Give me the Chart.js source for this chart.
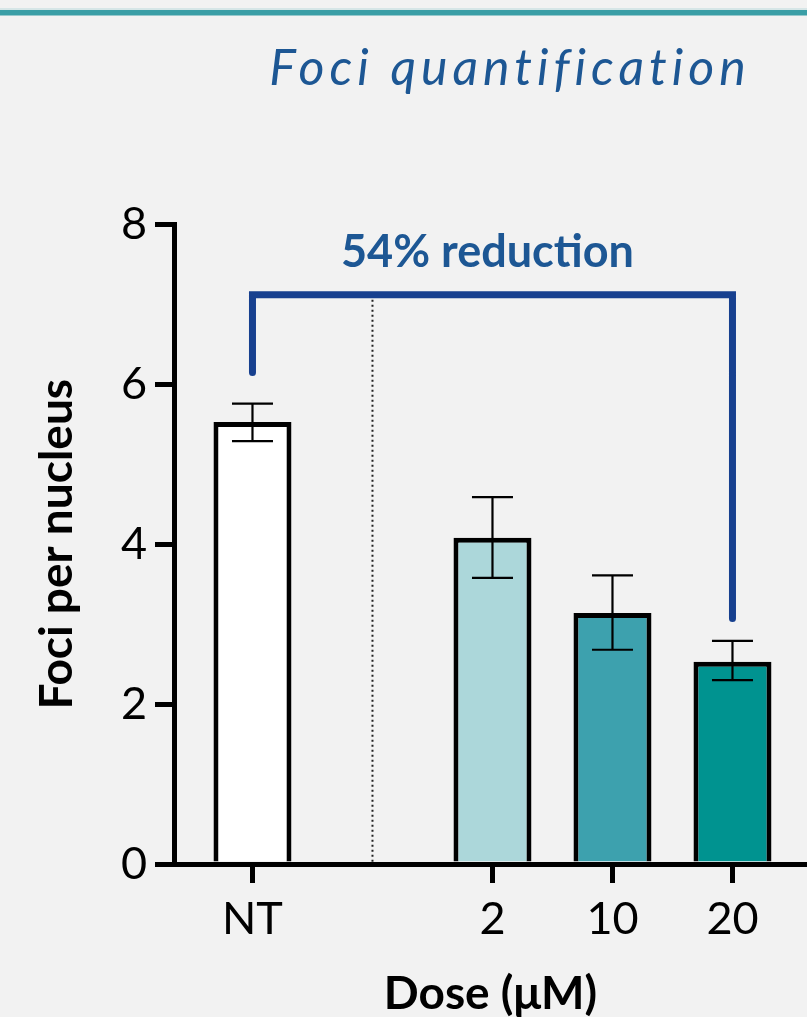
<!DOCTYPE html>
<html>
<head>
<meta charset="utf-8">
<script src="https://cdn.jsdelivr.net/npm/chart.js@4.4.1/dist/chart.umd.min.js"></script>
<style>
    html, body { margin: 0; padding: 0; background: #f2f2f2; }
    #wrap { width: 807px; height: 1017px; position: relative; }
</style>
</head>
<body>
<div id="wrap"><canvas id="foci"></canvas></div>
<script>
// groups along the dose axis, slot 1 is left empty as a spacer
const categories = ['NT', '2', '10', '20']
const slots = [0, 2, 3, 4]
const fociMean = [5.53, 4.08, 3.14, 2.53]
const errLow = [5.29, 3.58, 2.68, 2.30]
const errHigh = [5.76, 4.59, 3.61, 2.79]
const barColors = ['#ffffff', '#acd7da', '#3da1ae', '#009390']

// comparison bracket NT -> 20 µM
const bracketSlots = [0, 4]
const bracketLevel = 7.12
const bracketEnds = [6.15, 3.07]
const bracketLabel = '54% reduction'
const spacerSlot = 1

const blue = '#1d5794'
const bracketBlue = '#17408f'

const overlay = {
    id: 'overlay',
    beforeDraw(chart) {
        const { ctx, width } = chart
        ctx.save()
        ctx.fillStyle = '#f2f2f2'
        ctx.fillRect(0, 0, width, chart.height)
        // header rule
        ctx.fillStyle = '#d6e6e7'
        ctx.fillRect(0, 8, width, 2)
        ctx.fillStyle = '#3a9ea6'
        ctx.fillRect(0, 10, width, 5.5)
        // heading
        ctx.fillStyle = blue
        ctx.font = 'italic 400 50px Lato'
        ctx.letterSpacing = '5px'
        ctx.textAlign = 'center'
        ctx.textBaseline = 'alphabetic'
        ctx.fillText('Foci quantification', 510, 85)
        ctx.restore()
    },
    afterDatasetsDraw(chart) {
        const { ctx } = chart
        const x = chart.scales.x
        const y = chart.scales.y
        ctx.save()

        // spacer divider
        ctx.strokeStyle = '#222'
        ctx.lineWidth = 2
        ctx.setLineDash([2, 3])
        ctx.beginPath()
        ctx.moveTo(x.getPixelForValue(spacerSlot), y.getPixelForValue(bracketLevel))
        ctx.lineTo(x.getPixelForValue(spacerSlot), y.getPixelForValue(0))
        ctx.stroke()
        ctx.setLineDash([])

        // error bars
        ctx.strokeStyle = '#000'
        ctx.lineWidth = 2.2
        slots.forEach((s, i) => {
            const px = x.getPixelForValue(s)
            const lo = y.getPixelForValue(errLow[i])
            const hi = y.getPixelForValue(errHigh[i])
            ctx.beginPath()
            ctx.moveTo(px, lo)
            ctx.lineTo(px, hi)
            ctx.moveTo(px - 20.5, lo)
            ctx.lineTo(px + 20.5, lo)
            ctx.moveTo(px - 20.5, hi)
            ctx.lineTo(px + 20.5, hi)
            ctx.stroke()
        })

        // bracket
        const bx0 = x.getPixelForValue(bracketSlots[0])
        const bx1 = x.getPixelForValue(bracketSlots[1])
        const by = y.getPixelForValue(bracketLevel)
        ctx.strokeStyle = bracketBlue
        ctx.lineWidth = 7
        ctx.lineCap = 'round'
        ctx.lineJoin = 'miter'
        ctx.beginPath()
        ctx.moveTo(bx0, y.getPixelForValue(bracketEnds[0]))
        ctx.lineTo(bx0, by)
        ctx.lineTo(bx1, by)
        ctx.lineTo(bx1, y.getPixelForValue(bracketEnds[1]))
        ctx.stroke()

        ctx.fillStyle = blue
        ctx.font = '700 45px Lato'
        ctx.textAlign = 'center'
        ctx.textBaseline = 'alphabetic'
        ctx.fillText(bracketLabel, (bx0 + bx1) / 2 - 5, by - 28)
        ctx.restore()
    },
}

const ctx = document.getElementById('foci').getContext('2d')
new Chart(ctx, {
    type: 'bar',
    data: {
        datasets: [
            {
                data: slots.map((s, i) => ({ x: s, y: fociMean[i] })),
                backgroundColor: barColors,
                borderColor: '#000',
                borderWidth: 5,
                barPercentage: 0.65,
                categoryPercentage: 1,
            },
        ],
    },
    options: {
        responsive: true,
        maintainAspectRatio: false,
        animation: false,
        layout: { padding: { top: 224.5, left: 0, right: 0, bottom: 0 } },
        plugins: { legend: { display: false }, tooltip: { enabled: false } },
        scales: {
            x: {
                type: 'linear',
                min: -0.654,
                max: 4.621,
                offset: false,
                afterBuildTicks: scale => {
                    scale.ticks = slots.map(v => ({ value: v }))
                },
                afterFit: scale => {
                    scale.height = 153
                },
                ticks: {
                    callback: v => categories[slots.indexOf(v)],
                    color: '#000',
                    font: { family: 'Lato', size: 45, weight: '400' },
                    padding: 9,
                    maxRotation: 0,
                    autoSkip: false,
                },
                grid: {
                    display: true,
                    offset: false,
                    drawOnChartArea: false,
                    drawTicks: true,
                    tickLength: 19,
                    lineWidth: 5,
                    tickWidth: 5,
                    tickColor: '#000',
                },
                border: { display: true, width: 5, color: '#000' },
                title: {
                    display: true,
                    text: 'Dose (μM)',
                    color: '#000',
                    font: { family: 'Lato', size: 46, weight: '700', lineHeight: 1 },
                    padding: { top: 0, bottom: 0 },
                },
            },
            y: {
                min: 0,
                max: 8,
                afterFit: scale => {
                    scale.width = 174
                },
                ticks: {
                    stepSize: 2,
                    color: '#000',
                    font: { family: 'Lato', size: 45, weight: '400' },
                    padding: 8,
                },
                grid: {
                    display: true,
                    drawOnChartArea: false,
                    drawTicks: true,
                    tickLength: 19,
                    lineWidth: 5,
                    tickWidth: 5,
                    tickColor: '#000',
                },
                border: { display: true, width: 5, color: '#000' },
                title: {
                    display: true,
                    text: 'Foci per nucleus',
                    color: '#000',
                    font: { family: 'Lato', size: 46, weight: '700', lineHeight: 1 },
                    padding: { top: 34, bottom: 0 },
                },
            },
        },
    },
    plugins: [overlay],
})
</script>
</body>
</html>
